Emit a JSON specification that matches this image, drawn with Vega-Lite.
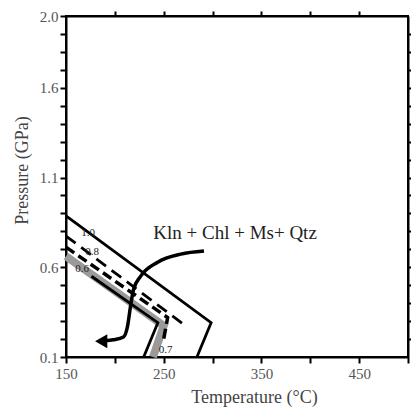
{
  "$schema": "https://vega.github.io/schema/vega-lite/v6.json",
  "width": 342,
  "height": 341,
  "autosize": "none",
  "padding": {"left": 66, "top": 16, "right": 3, "bottom": 55},
  "background": "white",
  "config": {
    "view": {"stroke": "black", "strokeWidth": 2},
    "axis": {
      "domainColor": "black", "domainWidth": 2, "tickColor": "black", "tickWidth": 2, "ticks": true,
      "labelFont": "Liberation Serif", "labelFontSize": 15, "labelColor": "#555",
      "titleFont": "Liberation Serif", "titleFontSize": 18, "titleFontWeight": "normal", "titleColor": "#444",
      "grid": false
    }
  },
  "datasets": {
    "lines": [
      {"id": "s10", "o": 1, "T": 150, "P": 0.887},
      {"id": "s10", "o": 2, "T": 298.5, "P": 0.291},
      {"id": "s10", "o": 3, "T": 284, "P": 0.1},
      {"id": "d08", "o": 1, "T": 150, "P": 0.774},
      {"id": "d08", "o": 2, "T": 272, "P": 0.275},
      {"id": "gray", "o": 1, "T": 150, "P": 0.662},
      {"id": "gray", "o": 2, "T": 250, "P": 0.274},
      {"id": "gray", "o": 3, "T": 239, "P": 0.1},
      {"id": "td", "o": 1, "T": 150, "P": 0.712},
      {"id": "td", "o": 2, "T": 254, "P": 0.32},
      {"id": "td", "o": 3, "T": 250, "P": 0.2},
      {"id": "s06", "o": 1, "T": 176, "P": 0.55},
      {"id": "s06", "o": 2, "T": 244, "P": 0.291},
      {"id": "s06", "o": 3, "T": 229.5, "P": 0.1}
    ],
    "path": [
      {"o": 1, "T": 291.2, "P": 0.69},
      {"o": 2, "T": 267.5, "P": 0.673},
      {"o": 3, "T": 243.8, "P": 0.628},
      {"o": 4, "T": 226.3, "P": 0.549},
      {"o": 5, "T": 219.1, "P": 0.476},
      {"o": 6, "T": 216.0, "P": 0.381},
      {"o": 7, "T": 212.9, "P": 0.269},
      {"o": 8, "T": 208.8, "P": 0.212},
      {"o": 9, "T": 198.5, "P": 0.196},
      {"o": 10, "T": 190, "P": 0.19}
    ],
    "arrow": [{"T": 186, "P": 0.188}],
    "labels": [
      {"t": "Kln + Chl + Ms+ Qtz", "T": 323, "P": 0.791, "s": 19},
      {"t": "1.0", "T": 172.7, "P": 0.791, "s": 11},
      {"t": "0.8", "T": 176.8, "P": 0.684, "s": 11},
      {"t": "0.6", "T": 166.5, "P": 0.589, "s": 11},
      {"t": "0.7", "T": 252, "P": 0.139, "s": 11}
    ]
  },
  "layer": [
    {
      "data": {"name": "lines"},
      "transform": [{"filter": "datum.id === 'gray'"}],
      "mark": {"type": "line", "color": "#9a9a9a", "strokeWidth": 8, "strokeJoin": "miter"},
      "encoding": {
        "x": {"field": "T", "type": "quantitative", "scale": {"domain": [150, 500], "nice": false, "zero": false},
          "axis": {"orient": "bottom", "values": [150, 200, 250, 300, 350, 400, 450, 500], "labelExpr": "datum.value % 100 == 50 && datum.value < 500 ? datum.label : ''", "tickSize": 6, "labelPadding": 3, "labelAlign": "center", "title": "Temperature (°C)", "titleX": 188, "titleY": 40, "titleBaseline": "middle", "titleAnchor": "middle", "titleAlign": "center"}},
        "y": {"field": "P", "type": "quantitative", "scale": {"domain": [0.1, 2.0], "nice": false, "zero": false},
          "axis": {"orient": "left", "values": [0.1, 0.2, 0.3, 0.4, 0.5, 0.6, 0.7, 0.8, 0.9, 1.0, 1.1, 1.2, 1.3, 1.4, 1.5, 1.6, 1.7, 1.8, 1.9, 2.0], "labelExpr": "indexof([0.1, 0.6, 1.1, 1.6, 2.0], datum.value) >= 0 ? format(datum.value, '.1f') : ''", "tickSize": 6, "labelPadding": 2, "title": "Pressure (GPa)", "titleX": -44, "titleY": 154, "titleAngle": -90, "titleAlign": "center", "titleBaseline": "middle"}},
        "order": {"field": "o"}
      }
    },
    {
      "data": {"values": [{"T": 150, "P": 0.1}]},
      "mark": {"type": "point", "opacity": 0},
      "encoding": {
        "x": {"field": "T", "type": "quantitative", "axis": {"orient": "top", "values": [200, 250, 300, 350, 400, 450], "labels": false, "tickSize": 5, "title": null}},
        "y": {"field": "P", "type": "quantitative", "axis": {"orient": "right", "values": [0.2, 0.3, 0.4, 0.5, 0.6, 0.7, 0.8, 0.9, 1.0, 1.1, 1.2, 1.3, 1.4, 1.5, 1.6, 1.7, 1.8, 1.9], "labels": false, "tickSize": 5, "title": null}}
      }
    },
    {
      "data": {"name": "lines"},
      "transform": [{"filter": "datum.id === 's10' || datum.id === 's06'"}],
      "mark": {"type": "line", "color": "black", "strokeWidth": 2.8, "strokeJoin": "miter"},
      "encoding": {
        "x": {"field": "T", "type": "quantitative", "axis": null},
        "y": {"field": "P", "type": "quantitative", "axis": null},
        "detail": {"field": "id"},
        "order": {"field": "o"}
      }
    },
    {
      "data": {"name": "lines"},
      "transform": [{"filter": "datum.id === 'd08'"}],
      "mark": {"type": "line", "color": "black", "strokeWidth": 2.8, "strokeDash": [12, 7]},
      "encoding": {
        "x": {"field": "T", "type": "quantitative", "axis": null},
        "y": {"field": "P", "type": "quantitative", "axis": null},
        "order": {"field": "o"}
      }
    },
    {
      "data": {"name": "lines"},
      "transform": [{"filter": "datum.id === 'td'"}],
      "mark": {"type": "line", "color": "black", "strokeWidth": 3.5, "strokeDash": [10, 5]},
      "encoding": {
        "x": {"field": "T", "type": "quantitative", "axis": null},
        "y": {"field": "P", "type": "quantitative", "axis": null},
        "order": {"field": "o"}
      }
    },
    {
      "data": {"name": "path"},
      "mark": {"type": "line", "color": "black", "strokeWidth": 3.5, "interpolate": "monotone"},
      "encoding": {
        "x": {"field": "T", "type": "quantitative", "axis": null},
        "y": {"field": "P", "type": "quantitative", "axis": null},
        "order": {"field": "o"}
      }
    },
    {
      "data": {"name": "arrow"},
      "mark": {"type": "point", "shape": "triangle-left", "filled": true, "color": "black", "size": 200, "opacity": 1},
      "encoding": {
        "x": {"field": "T", "type": "quantitative", "axis": null},
        "y": {"field": "P", "type": "quantitative", "axis": null}
      }
    },
    {
      "data": {"name": "labels"},
      "mark": {"type": "text", "font": "Liberation Serif", "color": "#222", "align": "center", "baseline": "middle"},
      "encoding": {
        "x": {"field": "T", "type": "quantitative", "axis": null},
        "y": {"field": "P", "type": "quantitative", "axis": null},
        "text": {"field": "t"},
        "size": {"field": "s", "type": "quantitative", "scale": null}
      }
    }
  ],
  "resolve": {"axis": {"x": "independent", "y": "independent"}}
}
